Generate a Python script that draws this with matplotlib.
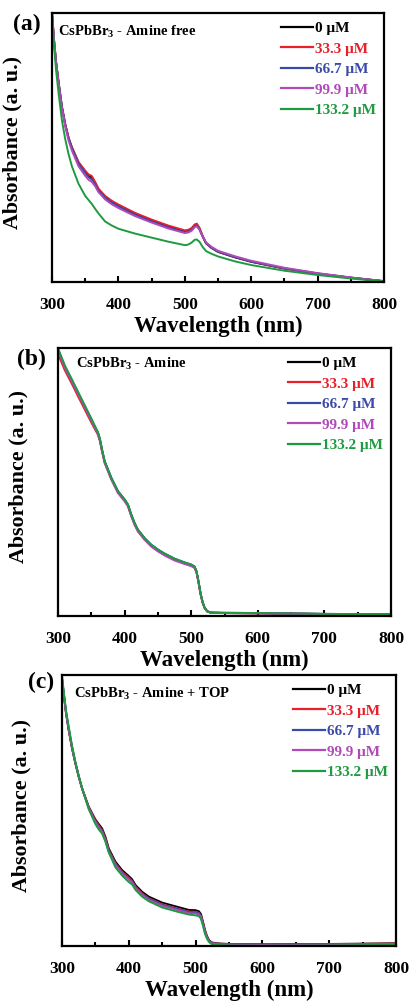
import matplotlib
matplotlib.use("Agg")
import matplotlib.pyplot as plt
from matplotlib.ticker import MultipleLocator

plt.rcParams['font.family'] = ['Liberation Serif', 'DejaVu Serif']
plt.rcParams['font.weight'] = 'bold'
plt.rcParams['mathtext.fontset'] = 'custom'
plt.rcParams['mathtext.rm'] = 'Liberation Serif:bold'
plt.rcParams['mathtext.bf'] = 'Liberation Serif:bold'
plt.rcParams['mathtext.it'] = 'Liberation Serif:bold'
plt.rcParams['mathtext.default'] = 'bf'

labels = ["0 μM", "33.3 μM", "66.7 μM", "99.9 μM", "133.2 μM"]
colors = ["#000000", "#e8202a", "#3a4aa8", "#b04ab8", "#1f9a40"]
x_ticks = [300, 400, 500, 600, 700, 800]

# ---------------- Panel (a): Amine free ----------------
wl_a = [300, 303, 306, 310, 315, 320, 325, 330, 340, 350, 355, 360, 365, 370, 380, 390, 400,
        425, 450, 475, 500, 505, 510, 515, 518, 522, 527, 532, 540, 550, 575, 600, 650, 700, 750, 800]
a_0 = [1.0, 0.90, 0.82, 0.74, 0.65, 0.585, 0.535, 0.50, 0.443, 0.41, 0.395, 0.388, 0.368, 0.344,
       0.317, 0.299, 0.285, 0.254, 0.229, 0.207, 0.189, 0.191, 0.197, 0.211, 0.214, 0.199, 0.169,
       0.144, 0.127, 0.112, 0.092, 0.075, 0.050, 0.031, 0.016, 0.003]
a_33 = [1.0, 0.90, 0.82, 0.74, 0.65, 0.586, 0.536, 0.501, 0.446, 0.414, 0.400, 0.394, 0.372, 0.347,
        0.320, 0.302, 0.288, 0.257, 0.232, 0.210, 0.192, 0.194, 0.200, 0.214, 0.217, 0.202, 0.171,
        0.145, 0.128, 0.113, 0.093, 0.076, 0.050, 0.031, 0.016, 0.003]
a_66 = [1.0, 0.90, 0.82, 0.74, 0.65, 0.584, 0.533, 0.497, 0.440, 0.405, 0.390, 0.381, 0.362, 0.339,
        0.313, 0.295, 0.281, 0.250, 0.225, 0.203, 0.185, 0.187, 0.193, 0.207, 0.210, 0.196, 0.168,
        0.144, 0.128, 0.113, 0.093, 0.076, 0.051, 0.032, 0.016, 0.003]
a_99 = [1.0, 0.90, 0.818, 0.736, 0.645, 0.578, 0.525, 0.488, 0.430, 0.395, 0.380, 0.372, 0.356, 0.334,
        0.307, 0.289, 0.275, 0.245, 0.221, 0.199, 0.182, 0.184, 0.190, 0.204, 0.207, 0.195, 0.169,
        0.147, 0.131, 0.116, 0.096, 0.079, 0.053, 0.033, 0.017, 0.003]
a_133 = [1.0, 0.88, 0.79, 0.70, 0.60, 0.53, 0.475, 0.43, 0.365, 0.32, 0.305, 0.29, 0.272, 0.255,
         0.225, 0.21, 0.198, 0.18, 0.165, 0.15, 0.137, 0.139, 0.146, 0.157, 0.158, 0.15, 0.13,
         0.115, 0.105, 0.095, 0.077, 0.063, 0.042, 0.026, 0.013, 0.002]

# ---------------- Panel (b): Amine ----------------
wl_b = [300, 305, 310, 320, 330, 340, 350, 355, 360, 363, 366, 370, 375, 380, 390, 400, 405, 410,
        415, 420, 430, 440, 450, 460, 475, 490, 500, 505, 508, 511, 514, 517, 520, 524, 530, 550,
        600, 700, 800]
b_0 = [0.994, 0.963, 0.931, 0.882, 0.832, 0.782, 0.732, 0.707, 0.682, 0.657, 0.620, 0.576, 0.545,
       0.514, 0.464, 0.433, 0.414, 0.377, 0.345, 0.320, 0.289, 0.264, 0.246, 0.231, 0.212, 0.198,
       0.190, 0.183, 0.165, 0.127, 0.084, 0.052, 0.031, 0.017, 0.012, 0.011, 0.010, 0.0075, 0.005]
b_33 = [0.975, 0.948, 0.918, 0.870, 0.820, 0.771, 0.722, 0.699, 0.676, 0.652, 0.616, 0.573, 0.542,
        0.511, 0.461, 0.430, 0.411, 0.374, 0.342, 0.317, 0.287, 0.262, 0.244, 0.229, 0.210, 0.196,
        0.188, 0.181, 0.163, 0.126, 0.083, 0.051, 0.031, 0.017, 0.012, 0.011, 0.010, 0.0075, 0.005]
b_66 = [0.994, 0.964, 0.933, 0.884, 0.834, 0.784, 0.734, 0.709, 0.684, 0.659, 0.622, 0.578, 0.547,
        0.516, 0.466, 0.435, 0.416, 0.379, 0.347, 0.322, 0.291, 0.266, 0.248, 0.233, 0.214, 0.200,
        0.192, 0.185, 0.167, 0.128, 0.085, 0.053, 0.032, 0.018, 0.013, 0.012, 0.011, 0.008, 0.006]
b_99 = [0.990, 0.960, 0.928, 0.879, 0.829, 0.779, 0.729, 0.704, 0.679, 0.654, 0.616, 0.571, 0.540,
        0.509, 0.459, 0.428, 0.409, 0.372, 0.340, 0.315, 0.284, 0.259, 0.241, 0.226, 0.207, 0.194,
        0.186, 0.179, 0.162, 0.125, 0.083, 0.051, 0.030, 0.017, 0.012, 0.011, 0.010, 0.0075, 0.005]
b_133 = [1.0, 0.968, 0.936, 0.887, 0.837, 0.787, 0.737, 0.711, 0.686, 0.660, 0.622, 0.578, 0.547,
         0.516, 0.466, 0.435, 0.416, 0.379, 0.347, 0.322, 0.291, 0.266, 0.248, 0.233, 0.214, 0.200,
         0.192, 0.185, 0.167, 0.129, 0.086, 0.053, 0.032, 0.018, 0.013, 0.012, 0.011, 0.008, 0.006]

# ---------------- Panel (c): Amine + TOP ----------------
wl_c = [300, 303, 306, 310, 315, 320, 325, 330, 340, 350, 355, 360, 365, 370, 380, 390, 400, 405,
        410, 420, 430, 450, 475, 490, 500, 505, 508, 511, 514, 517, 520, 524, 530, 550, 600, 700, 800]
c_0 = [0.982, 0.92, 0.859, 0.797, 0.729, 0.674, 0.625, 0.582, 0.514, 0.467, 0.450, 0.434, 0.403,
       0.360, 0.311, 0.280, 0.258, 0.246, 0.225, 0.200, 0.182, 0.160, 0.143, 0.133, 0.132, 0.128,
       0.118, 0.090, 0.059, 0.037, 0.022, 0.0135, 0.010, 0.0074, 0.006, 0.0074, 0.010]
c_33 = [0.985, 0.922, 0.861, 0.799, 0.731, 0.675, 0.626, 0.582, 0.512, 0.463, 0.445, 0.428, 0.397,
        0.354, 0.305, 0.274, 0.252, 0.240, 0.219, 0.194, 0.176, 0.154, 0.137, 0.127, 0.126, 0.122,
        0.112, 0.085, 0.055, 0.034, 0.020, 0.012, 0.009, 0.0065, 0.005, 0.0065, 0.009]
c_66 = [0.987, 0.924, 0.863, 0.801, 0.733, 0.676, 0.627, 0.582, 0.510, 0.460, 0.441, 0.424, 0.393,
        0.351, 0.302, 0.271, 0.249, 0.238, 0.217, 0.192, 0.174, 0.152, 0.135, 0.125, 0.124, 0.120,
        0.110, 0.084, 0.054, 0.033, 0.019, 0.011, 0.008, 0.006, 0.005, 0.006, 0.008]
c_99 = [0.988, 0.925, 0.864, 0.802, 0.734, 0.677, 0.627, 0.581, 0.508, 0.456, 0.437, 0.420, 0.389,
        0.347, 0.298, 0.267, 0.245, 0.234, 0.213, 0.188, 0.170, 0.148, 0.131, 0.121, 0.120, 0.116,
        0.106, 0.080, 0.051, 0.031, 0.018, 0.010, 0.007, 0.005, 0.004, 0.005, 0.007]
c_133 = [1.0, 0.93, 0.87, 0.81, 0.74, 0.68, 0.627, 0.582, 0.505, 0.450, 0.430, 0.415, 0.385, 0.345,
         0.290, 0.260, 0.236, 0.227, 0.207, 0.182, 0.165, 0.142, 0.125, 0.116, 0.113, 0.110, 0.100,
         0.075, 0.045, 0.027, 0.015, 0.007, 0.004, 0.002, 0.001, 0.002, 0.004]

panels = [
    ("(a)", "CsPbBr$_{3}$ - Amine free", wl_a, [a_0, a_33, a_66, a_99, a_133]),
    ("(b)", "CsPbBr$_{3}$ - Amine", wl_b, [b_0, b_33, b_66, b_99, b_133]),
    ("(c)", "CsPbBr$_{3}$ - Amine + TOP", wl_c, [c_0, c_33, c_66, c_99, c_133]),
]

W, H = 411, 1001
fig = plt.figure(figsize=(W / 100, H / 100), dpi=100)

# axes boxes in pixels: left, right, top, bottom
boxes = [(52, 384, 13, 282), (58, 391, 348, 616), (62, 396, 675, 946)]
plabel_pos = [(27, 24), (31, 359), (41, 682)]
title_off = [(6, 19), (18, 16), (12, 19)]

for i, (plab, title, wl, series) in enumerate(panels):
    l, r, t, b = boxes[i]
    ax = fig.add_axes([l / W, 1 - b / H, (r - l) / W, (b - t) / H])
    for ys, c, lab in zip(series, colors, labels):
        ax.plot(wl, ys, color=c, lw=1.4, label=lab)
    ax.set_xlim(300, 800)
    ax.set_ylim(0, 1.0)
    ax.set_xticks(x_ticks)
    ax.xaxis.set_minor_locator(MultipleLocator(50))
    ax.set_yticks([])
    ax.tick_params(axis='x', which='major', direction='in', length=4, width=1.5,
                   labelsize=12.5, pad=11, top=False)
    ax.tick_params(axis='x', which='minor', direction='in', length=3, width=1.5, top=False)
    for sp in ax.spines.values():
        sp.set_linewidth(1.6)
    ax.set_xlabel("Wavelength (nm)", fontsize=16.5, fontweight='bold', labelpad=2)
    ax.set_ylabel("Absorbance (a. u.)", fontsize=15.8, fontweight='bold')
    ax.yaxis.set_label_coords(-0.09, 0.52)
    ax.text(title_off[i][0] / (r - l), 1 - title_off[i][1] / (b - t), title,
            transform=ax.transAxes, fontsize=10.5, fontweight='bold', va='center', ha='left')
    leg = ax.legend(loc='upper right', bbox_to_anchor=(1.0, 1.0), frameon=False,
                    prop={'size': 11, 'weight': 'bold'}, handlelength=2.1,
                    handletextpad=0.1, labelspacing=0.45, borderaxespad=0.15)
    for txt, c in zip(leg.get_texts(), colors):
        txt.set_color(c)
    for ln in leg.get_lines():
        ln.set_linewidth(1.6)
    fig.text(plabel_pos[i][0] / W, 1 - plabel_pos[i][1] / H, plab, fontsize=17,
             fontweight='bold', ha='center', va='center')

fig.savefig("out.png", dpi=100)
